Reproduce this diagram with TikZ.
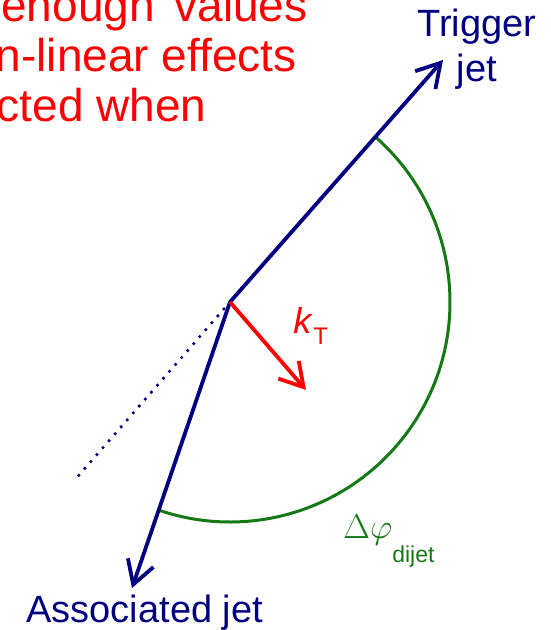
\documentclass[tikz,border=0pt]{standalone}
\usepackage{fontspec}
\setmainfont{Liberation Sans}
\usetikzlibrary{positioning, arrows.meta}
\definecolor{jetblue}{RGB}{0,0,128}
\definecolor{ktred}{RGB}{255,0,0}
\definecolor{phigreen}{RGB}{20,120,20}
\tikzset{
  x = 0.5pt, y = 0.5pt,
  > = {Straight Barb[length = 11.5pt, width = 13.5pt]},
  jet/.style = {draw = jetblue, line width = 1.9pt, ->},
  recoil/.style = {draw = jetblue, line width = 1.8pt, line cap = round,
    dash pattern = on 0pt off 4.6pt},
  kick/.style = {draw = ktred, line width = 1.9pt, ->},
  dphi/.style = {draw = phigreen, line width = 1.5pt},
  lbl/.style = {inner sep = 0pt, font = \fontsize{19}{22.5}\selectfont},
  note/.style = {inner sep = 0pt, text = ktred, anchor = base east,
    font = \fontsize{23}{25}\selectfont}
}
\begin{document}
\begin{tikzpicture}
\useasboundingbox (0,0) rectangle (550,-630);

%% Points
\coordinate (vtx) at (230,-302);
\coordinate (trig) at (443,-60);
\coordinate (assoc) at (132,-588);
\coordinate (away) at (73,-482);
\coordinate (kt) at (306,-390);
\coordinate (arcA) at ([shift = {(48.7:220)}] vtx);

%% Note (cut off)
\node [note] (note1) at (308,-22) {enough\hspace{3.5pt} values};
\node [note] (note2) at (297,-72) {n-linear effects};
\node [note] (note3) at (207,-122) {cted when};

%% Angle
\draw [dphi] (arcA) arc [start angle = 48.7, end angle = -108.9, radius = 220];
\node [inner sep = 0pt, anchor = base west, text = phigreen] (dphilbl) at (343,-538)
  {\fontsize{17}{17}\selectfont$\Delta\varphi$\raisebox{-12pt}{\fontsize{11.5}{11.5}\selectfont dijet}};

%% Jets
\draw [recoil] (vtx) -- (away);
\draw [jet] (vtx) -- (trig);
\draw [jet] (vtx) -- (assoc);
\node [lbl, text = jetblue, anchor = base] (trigname) at (477,-37) {Trigger};
\node [lbl, text = jetblue, anchor = base] (trigjet) at (477,-82) {jet};
\node [lbl, text = jetblue, anchor = base west] (assocname) at (26,-622) {Associated jet};

%% kT
\draw [kick] (vtx) -- (kt);
\node [inner sep = 0pt, anchor = base west, text = ktred] (ktlbl) at (293,-333)
  {\fontsize{18}{18}\selectfont\itshape k\upshape\hspace{1pt}\raisebox{-5.5pt}{\fontsize{12}{12}\selectfont T}};

\end{tikzpicture}
\end{document}
